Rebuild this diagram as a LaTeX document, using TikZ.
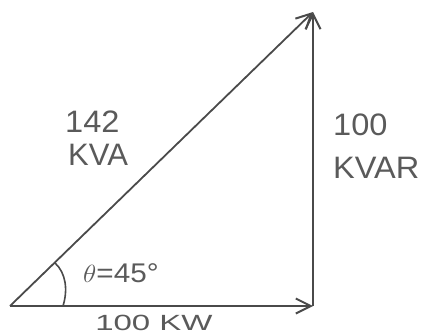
\documentclass[tikz,border=0pt]{standalone}
\usepackage{fontspec}
\setmainfont{Liberation Sans}
\usetikzlibrary{arrows.meta}
\definecolor{pencil}{HTML}{4A4A4A}
\definecolor{graphite}{HTML}{5A5A5A}
\begin{document}
\begin{tikzpicture}[x=1pt,y=-1pt,
  vec/.style={draw=pencil,line width=1.8pt,-{Straight Barb[length=15pt,width=15pt,line width=2pt]}},
  lbl/.style={text=graphite,font=\fontsize{31}{34}\selectfont,inner sep=0pt,anchor=base west}]
\useasboundingbox (0,0) rectangle (423,335);
\coordinate (O) at (10,306);
\coordinate (P) at (313,306);
\coordinate (Q) at (313,12);
\draw[vec] (O) -- (P);
\draw[vec] (P) -- (Q);
\draw[vec] (O) -- (Q);
\coordinate (a1) at (63,306);
\coordinate (a2) at (55,263);
\draw[draw=pencil,line width=1.6pt] (a1) .. controls (68,290) and (66,273) .. (a2);
\node[lbl,xscale=1.05] (n142) at (65,132) {142};
\node[lbl] (kva) at (68,165) {KVA};
\node[lbl,xscale=1.05] (n100) at (333,135) {100};
\node[lbl,xscale=1.05] (kvar) at (333,178) {KVAR};
\node[lbl,font=\fontsize{27}{30}\selectfont,xscale=1.1] (theta) at (83,282) {$\theta$=45°};
\node[lbl,font=\fontsize{22}{24}\selectfont,xscale=1.5] (kw) at (95,330) {100 KW};
\end{tikzpicture}
\end{document}
